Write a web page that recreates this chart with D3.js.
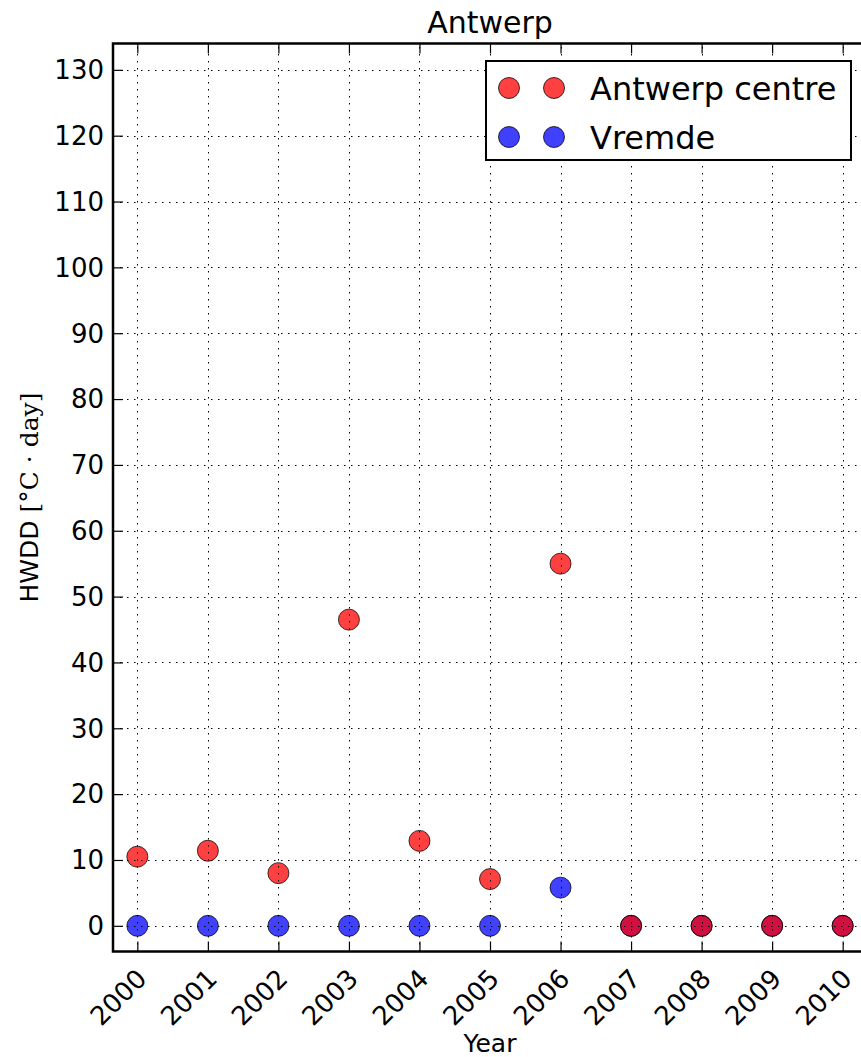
<!DOCTYPE html>
<html>
<head>
<meta charset="utf-8">
<script src="https://cdn.jsdelivr.net/npm/d3@7"></script>
<style>
  body { margin: 0; background: #fff; }
  svg { display: block; font-family: "DejaVu Sans", sans-serif; }
</style>
</head>
<body>
<div id="chartDiv"></div>
<script>
var years = [2000, 2001, 2002, 2003, 2004, 2005, 2006, 2007, 2008, 2009, 2010];
var antwerpCentre = [10.5, 11.4, 8.0, 46.5, 12.9, 7.1, 55.0, 0, 0, 0, 0];
var vremde = [0, 0, 0, 0, 0, 0, 5.8, 0, 0, 0, 0];
var yTicks = [0, 10, 20, 30, 40, 50, 60, 70, 80, 90, 100, 110, 120, 130];
var seriesNames = ["Antwerp centre", "Vremde"];
var seriesColors = ["#ff0000", "#0000ff"];

var width = 861, height = 1057;
var margin = {top: 43.5, left: 113, right: 867, bottom: 951.5};

var svg = d3.select("#chartDiv")
    .append("svg")
    .attr("width", width)
    .attr("height", height);

var x = d3.scaleLinear()
    .domain([1999.655, 2010.345])
    .range([margin.left, margin.right]);
var y = d3.scaleLinear()
    .domain([-3.9, 134.0])
    .range([margin.bottom, margin.top]);

// markers: blue first, red on top
var series = [
    {name: seriesNames[1], color: seriesColors[1], values: vremde},
    {name: seriesNames[0], color: seriesColors[0], values: antwerpCentre}
];
series.forEach(function (s) {
    svg.append("g")
        .selectAll("circle")
        .data(s.values).enter()
        .append("circle")
        .attr("cx", function (d, i) { return x(years[i]); })
        .attr("cy", function (d) { return y(d); })
        .attr("r", 10.5)
        .attr("fill", s.color)
        .attr("fill-opacity", 0.75)
        .attr("stroke", "#000")
        .attr("stroke-opacity", 0.75)
        .attr("stroke-width", 1);
});

// grid on top of the markers, like the old matplotlib default
var grid = svg.append("g")
    .attr("stroke", "#000")
    .attr("stroke-width", 1)
    .attr("stroke-dasharray", "1.5,5.5");
grid.selectAll(".gx")
    .data(years).enter()
    .append("line")
    .attr("x1", function (d) { return Math.round(x(d)) + 0.5; })
    .attr("x2", function (d) { return Math.round(x(d)) + 0.5; })
    .attr("y1", margin.bottom)
    .attr("y2", margin.top);
grid.selectAll(".gy")
    .data(yTicks).enter()
    .append("line")
    .attr("x1", margin.left)
    .attr("x2", margin.right)
    .attr("y1", function (d) { return Math.round(y(d)) + 0.5; })
    .attr("y2", function (d) { return Math.round(y(d)) + 0.5; });

// axes (ticks pointing inward)
var xAxisBottom = d3.axisTop(x).tickValues(years).tickSize(10).tickFormat("");
var xAxisTop = d3.axisBottom(x).tickValues(years).tickSize(10).tickFormat("");
var yAxisLeft = d3.axisRight(y).tickValues(yTicks).tickSize(10).tickFormat("");

svg.append("g")
    .attr("class", "axis")
    .attr("transform", "translate(0," + margin.bottom + ")")
    .call(xAxisBottom);
svg.append("g")
    .attr("class", "axis")
    .attr("transform", "translate(0," + margin.top + ")")
    .call(xAxisTop);
svg.append("g")
    .attr("class", "axis")
    .attr("transform", "translate(" + margin.left + ",0)")
    .call(yAxisLeft);
svg.selectAll(".axis .domain").remove();
svg.selectAll(".axis line")
    .attr("stroke", "#000")
    .attr("stroke-width", 1.2);

// tick labels
svg.append("g")
    .selectAll("text")
    .data(yTicks).enter()
    .append("text")
    .attr("x", margin.left - 9)
    .attr("y", function (d) { return y(d); })
    .attr("dy", "0.36em")
    .attr("text-anchor", "end")
    .style("font-size", "26px")
    .text(function (d) { return d; });

svg.append("g")
    .selectAll("text")
    .data(years).enter()
    .append("text")
    .attr("transform", function (d) {
        return "translate(" + (x(d) - 3) + "," + (margin.bottom + 15) + ") rotate(-45)";
    })
    .attr("dy", "0.75em")
    .attr("text-anchor", "end")
    .style("font-size", "26px")
    .text(function (d) { return d; });

// frame
svg.append("rect")
    .attr("x", margin.left)
    .attr("y", margin.top)
    .attr("width", margin.right - margin.left)
    .attr("height", margin.bottom - margin.top)
    .attr("fill", "none")
    .attr("stroke", "#000")
    .attr("stroke-width", 2.5);

// title and axis labels
svg.append("text")
    .attr("x", (margin.left + margin.right) / 2)
    .attr("y", 33)
    .attr("text-anchor", "middle")
    .style("font-size", "30px")
    .text("Antwerp");

svg.append("text")
    .attr("x", (margin.left + margin.right) / 2)
    .attr("y", 1052)
    .attr("text-anchor", "middle")
    .style("font-size", "25px")
    .text("Year");

var yLabel = svg.append("text")
    .attr("transform", "translate(38," + ((margin.top + margin.bottom) / 2) + ") rotate(-90)")
    .attr("text-anchor", "middle")
    .style("font-size", "25px");
yLabel.append("tspan").text("HWDD ");
yLabel.append("tspan")
    .style("font-family", "'DejaVu Serif', serif")
    .style("font-size", "25px")
    .text("[\u00B0C \u00B7 day]");

// legend
var legend = svg.append("g");
legend.append("rect")
    .attr("x", 486)
    .attr("y", 61)
    .attr("width", 365)
    .attr("height", 99)
    .attr("fill", "#fff")
    .attr("stroke", "#000")
    .attr("stroke-width", 2);
var legendRows = legend.selectAll(".row")
    .data(seriesNames).enter()
    .append("g")
    .attr("transform", function (d, i) { return "translate(0," + (88 + i * 49) + ")"; });
[509, 554].forEach(function (cx) {
    legendRows.append("circle")
        .attr("cx", cx)
        .attr("cy", 0)
        .attr("r", 10.5)
        .attr("fill", function (d, i) { return seriesColors[i]; })
        .attr("fill-opacity", 0.75)
        .attr("stroke", "#000")
        .attr("stroke-opacity", 0.75);
});
legendRows.append("text")
    .attr("x", 590)
    .attr("dy", "0.36em")
    .style("font-size", "32px")
    .text(function (d) { return d; });
</script>
</body>
</html>
